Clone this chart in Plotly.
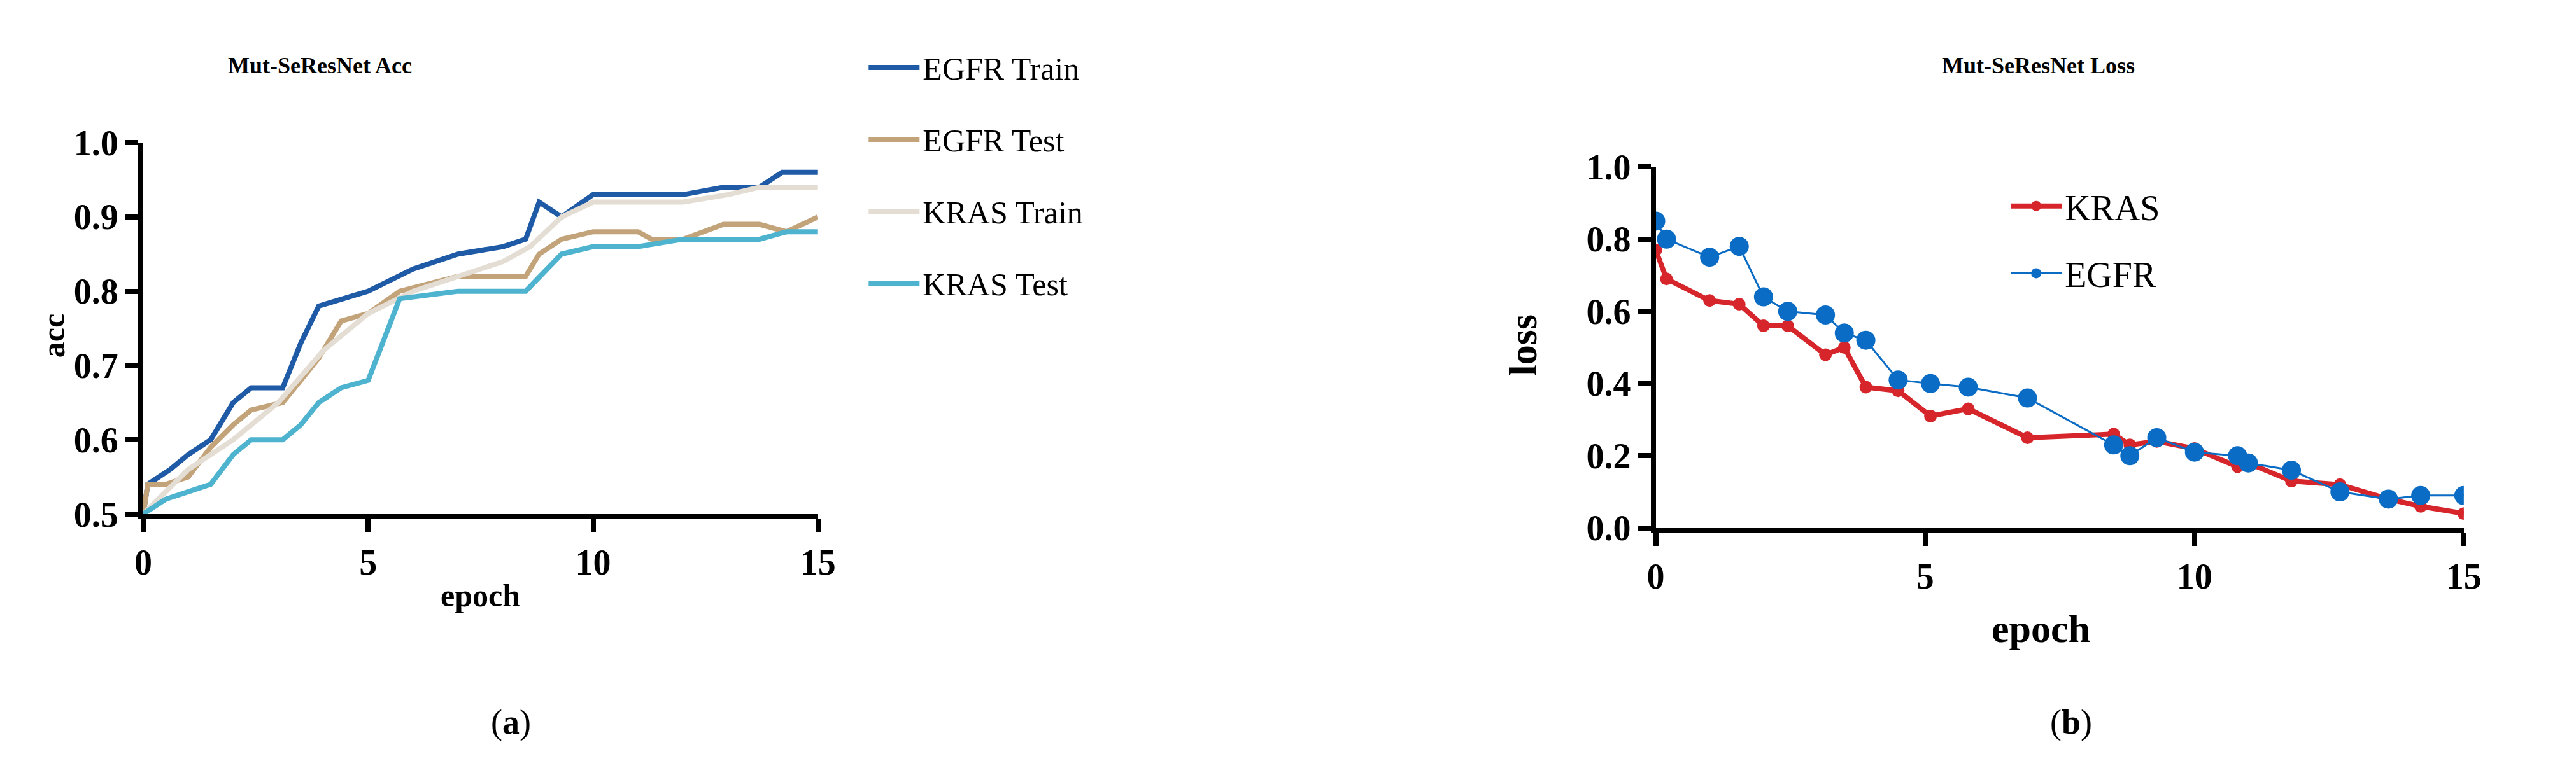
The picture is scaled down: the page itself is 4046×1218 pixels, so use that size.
import plotly.graph_objects as go

# (a) accuracy curves
egfr_train_x = [0, 0.1, 0.6, 1, 1.5, 2, 2.4, 3.1, 3.5, 3.9, 5, 6, 7, 8, 8.5, 8.8, 9.3, 10, 12, 12.9, 13.7, 14.2, 15]
egfr_train_y = [0.5, 0.54, 0.56, 0.58, 0.60, 0.65, 0.67, 0.67, 0.73, 0.78, 0.80, 0.83, 0.85, 0.86, 0.87, 0.92, 0.90, 0.93, 0.93, 0.94, 0.94, 0.96, 0.96]
egfr_test_x = [0, 0.1, 0.5, 1, 1.5, 2, 2.4, 3.1, 3.5, 3.9, 4.4, 5, 5.7, 7, 8.5, 8.8, 9.3, 10, 11, 11.3, 12, 12.9, 13.7, 14.3, 15]
egfr_test_y = [0.5, 0.54, 0.54, 0.55, 0.59, 0.62, 0.64, 0.65, 0.68, 0.71, 0.76, 0.77, 0.80, 0.82, 0.82, 0.85, 0.87, 0.88, 0.88, 0.87, 0.87, 0.89, 0.89, 0.88, 0.90]
kras_train_x = [0, 0.5, 1, 2, 3, 4, 5, 6, 7, 8, 8.6, 9.3, 10, 12, 13, 13.7, 15]
kras_train_y = [0.5, 0.53, 0.56, 0.60, 0.65, 0.72, 0.77, 0.80, 0.82, 0.84, 0.86, 0.90, 0.92, 0.92, 0.93, 0.94, 0.94]
kras_test_x = [0, 0.5, 1, 1.5, 2, 2.4, 3.1, 3.5, 3.9, 4.4, 5, 5.7, 7, 8.5, 9.3, 10, 11, 12, 13.7, 14.3, 15]
kras_test_y = [0.5, 0.52, 0.53, 0.54, 0.58, 0.60, 0.60, 0.62, 0.65, 0.67, 0.68, 0.79, 0.80, 0.80, 0.85, 0.86, 0.86, 0.87, 0.87, 0.88, 0.88]

# (b) loss curves
loss_kras_x = [0, 0.2, 1, 1.55, 2, 2.45, 3.15, 3.5, 3.9, 4.5, 5.1, 5.8, 6.9, 8.5, 8.8, 9.3, 10, 10.8, 11, 11.8, 12.7, 13.6, 14.2, 15]
loss_kras_y = [0.77, 0.69, 0.63, 0.62, 0.56, 0.56, 0.48, 0.50, 0.39, 0.38, 0.31, 0.33, 0.25, 0.26, 0.23, 0.24, 0.22, 0.17, 0.18, 0.13, 0.12, 0.08, 0.06, 0.04]
loss_egfr_x = [0, 0.2, 1, 1.55, 2, 2.45, 3.15, 3.5, 3.9, 4.5, 5.1, 5.8, 6.9, 8.5, 8.8, 9.3, 10, 10.8, 11, 11.8, 12.7, 13.6, 14.2, 15]
loss_egfr_y = [0.85, 0.80, 0.75, 0.78, 0.64, 0.60, 0.59, 0.54, 0.52, 0.41, 0.40, 0.39, 0.36, 0.23, 0.20, 0.25, 0.21, 0.20, 0.18, 0.16, 0.10, 0.08, 0.09, 0.09]

FONT = "Liberation Serif"

fig = go.Figure()
acc_series = [
    ("EGFR Train", egfr_train_x, egfr_train_y, "#1f5aa6"),
    ("EGFR Test", egfr_test_x, egfr_test_y, "#c3a47a"),
    ("KRAS Train", kras_train_x, kras_train_y, "#e4ddd3"),
    ("KRAS Test", kras_test_x, kras_test_y, "#4db3cf"),
]
for name, xs, ys, col in acc_series:
    fig.add_trace(go.Scatter(x=xs, y=ys, name=name, mode="lines", legendgroup=name,
                             line=dict(color=col, width=8), xaxis="x", yaxis="y", legend="legend"))

fig.add_trace(go.Scatter(x=loss_kras_x, y=loss_kras_y, name="KRAS", mode="lines+markers", legendgroup="k",
                         line=dict(color="#d6262b", width=8), marker=dict(size=20, color="#d6262b"),
                         xaxis="x2", yaxis="y2", legend="legend2"))
fig.add_trace(go.Scatter(x=loss_egfr_x, y=loss_egfr_y, name="EGFR", mode="lines+markers", legendgroup="e",
                         line=dict(color="#0a6cc4", width=3), marker=dict(size=30, color="#0a6cc4"),
                         xaxis="x2", yaxis="y2", legend="legend2"))

axis_common = dict(showgrid=False, zeroline=False, showline=True, linecolor="black", linewidth=8,
                   ticks="outside", ticklen=20, tickwidth=8, tickcolor="black",
                   tickfont=dict(family=FONT, size=56, color="black", weight="bold"))

fig.update_layout(
    width=4046, height=1218, paper_bgcolor="white", plot_bgcolor="white",
    margin=dict(l=0, r=0, t=0, b=0),
    font=dict(family=FONT, color="black"),
    xaxis=dict(domain=[0.0507, 0.3154], range=[0, 15], tickvals=[0, 5, 10, 15],
               tickformat="d", anchor="y", **axis_common),
    yaxis=dict(domain=[0.334, 0.839], range=[0.5, 1.0], tickvals=[0.5, 0.6, 0.7, 0.8, 0.9, 1.0],
               tickformat=".1f", anchor="x", **axis_common),
    xaxis2=dict(domain=[0.644, 0.961], range=[0, 15], tickvals=[0, 5, 10, 15],
                anchor="y2", **axis_common),
    yaxis2=dict(domain=[0.315, 0.806], range=[0, 1.0], tickvals=[0, 0.2, 0.4, 0.6, 0.8, 1.0],
                tickformat=".1f", anchor="x2", **axis_common),
    legend=dict(x=0.334, y=0.975, xanchor="left", yanchor="top", bgcolor="rgba(0,0,0,0)",
                font=dict(family=FONT, size=50), tracegroupgap=45, itemwidth=80),
    legend2=dict(x=0.782, y=0.79, xanchor="left", yanchor="top", bgcolor="rgba(0,0,0,0)",
                 font=dict(family=FONT, size=56), tracegroupgap=30, itemwidth=80),
    showlegend=True,
)

annos = [
    dict(text="<b>Mut-SeResNet Acc</b>", x=0.120, y=0.944, size=36),
    dict(text="<b>Mut-SeResNet Loss</b>", x=0.794, y=0.944, size=36),
    dict(text="<b>epoch</b>", x=0.183, y=0.223, size=50),
    dict(text="<b>epoch</b>", x=0.795, y=0.178, size=62),
    dict(text="(<b>a</b>)", x=0.195, y=0.051, size=54),
    dict(text="(<b>b</b>)", x=0.807, y=0.051, size=54),
]
for a in annos:
    fig.add_annotation(text=a["text"], x=a["x"], y=a["y"], xref="paper", yref="paper",
                       showarrow=False, xanchor="center", yanchor="middle",
                       font=dict(family=FONT, size=a["size"], color="black"))
fig.add_annotation(text="<b>acc</b>", x=0.008, y=0.576, xref="paper", yref="paper",
                   showarrow=False, textangle=-90, font=dict(family=FONT, size=50, color="black"))
fig.add_annotation(text="<b>loss</b>", x=0.592, y=0.564, xref="paper", yref="paper",
                   showarrow=False, textangle=-90, font=dict(family=FONT, size=62, color="black"))

fig.write_html("out.html")
